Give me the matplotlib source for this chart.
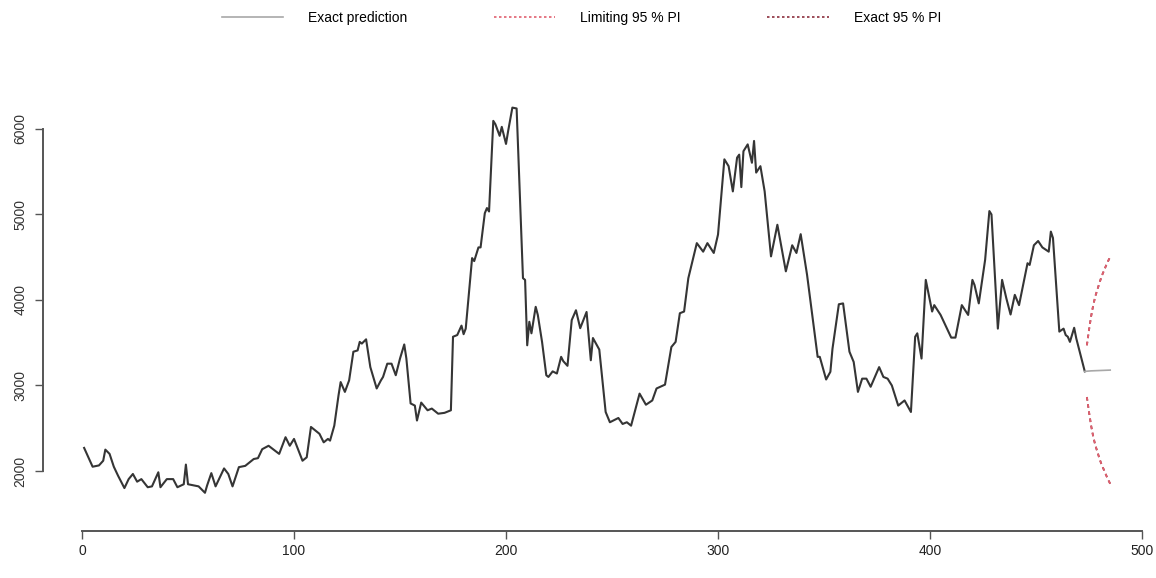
import numpy as np
import matplotlib.pyplot as plt
from matplotlib.lines import Line2D

# observed series (time index, value)
obs_t = [1, 5, 8, 10, 11, 13, 15, 17, 20, 22, 24, 26, 28, 31, 33, 36, 37, 40, 43, 45,
         48, 49, 50, 52, 55, 58, 59, 61, 63, 65, 67, 69, 71, 74, 77, 81, 83, 85, 88, 93,
         96, 98, 100, 104, 106, 108, 112, 114, 116, 117, 119, 121, 122, 124, 126, 128, 130, 131, 132, 134,
         136, 139, 141, 142, 144, 146, 148, 150, 152, 153, 155, 157, 158, 160, 163, 165, 168, 171, 174, 175,
         177, 179, 180, 181, 184, 185, 187, 188, 190, 191, 192, 194, 195, 197, 198, 200, 201, 203, 205, 208,
         209, 210, 211, 212, 214, 215, 217, 219, 220, 222, 224, 226, 227, 229, 231, 233, 235, 238, 240, 241,
         244, 247, 249, 253, 255, 257, 259, 263, 266, 269, 271, 275, 278, 280, 282, 284, 286, 290, 293, 295,
         298, 300, 303, 305, 307, 309, 310, 311, 312, 314, 316, 317, 318, 320, 322, 325, 328, 332, 335, 337,
         339, 342, 347, 348, 351, 353, 354, 357, 359, 362, 364, 366, 368, 370, 372, 376, 378, 380, 382, 385,
         388, 391, 393, 394, 396, 398, 401, 402, 405, 410, 412, 415, 418, 420, 421, 423, 425, 426, 428, 429,
         432, 434, 436, 438, 440, 442, 446, 447, 449, 451, 453, 456, 457, 458, 461, 463, 464, 465, 466, 468,
         469, 473]
obs_y = [2270, 2050, 2065, 2120, 2250, 2200, 2050, 1945, 1800, 1905, 1965, 1875, 1905, 1810, 1820, 1985, 1810, 1905, 1905, 1810,
         1845, 2075, 1845, 1835, 1820, 1745, 1830, 1975, 1820, 1925, 2030, 1965, 1820, 2045, 2060, 2140, 2150, 2255, 2295, 2200,
         2395, 2295, 2375, 2120, 2160, 2515, 2435, 2335, 2375, 2355, 2530, 2885, 3040, 2925, 3060, 3395, 3410, 3510, 3490, 3540,
         3215, 2965, 3060, 3100, 3255, 3255, 3120, 3315, 3480, 3315, 2790, 2765, 2590, 2800, 2710, 2730, 2670, 2680, 2710, 3570,
         3590, 3700, 3600, 3665, 4490, 4455, 4615, 4615, 5015, 5075, 5035, 6095, 6055, 5920, 6025, 5825, 5975, 6250, 6240, 4255,
         4235, 3470, 3745, 3610, 3920, 3825, 3510, 3120, 3100, 3165, 3140, 3335, 3285, 3230, 3765, 3880, 3670, 3860, 3295, 3555,
         3420, 2690, 2570, 2620, 2550, 2570, 2530, 2905, 2775, 2825, 2965, 3010, 3450, 3510, 3845, 3865, 4255, 4665, 4565, 4665,
         4550, 4765, 5645, 5565, 5270, 5665, 5700, 5320, 5740, 5820, 5605, 5860, 5490, 5565, 5270, 4510, 4880, 4335, 4640, 4550,
         4770, 4295, 3335, 3335, 3070, 3160, 3430, 3950, 3960, 3395, 3275, 2925, 3080, 3080, 2985, 3215, 3100, 3080, 3000, 2765,
         2825, 2690, 3570, 3610, 3315, 4235, 3865, 3940, 3825, 3560, 3560, 3940, 3825, 4235, 4175, 3960, 4295, 4470, 5040, 5000,
         3665, 4235, 4020, 3830, 4060, 3940, 4430, 4410, 4640, 4690, 4615, 4565, 4800, 4725, 3630, 3665, 3590, 3570, 3510, 3675,
         3550, 3165]

# point forecast beyond the last observation
fc_t = [473, 474, 475, 476, 477, 478, 479, 480, 481, 482, 483, 484, 485]
fc_y = [3165, 3167, 3169, 3171, 3172, 3173, 3174, 3175, 3176, 3177, 3178, 3179, 3180]

# 95 % prediction interval bounds
pi_t = [474, 475, 476, 477, 478, 479, 480, 481, 482, 483, 484, 485]
pi_upper = [3470, 3650, 3810, 3940, 4045, 4125, 4205, 4280, 4340, 4400, 4455, 4505]
pi_lower = [2865, 2690, 2530, 2400, 2300, 2220, 2140, 2070, 2015, 1955, 1900, 1850]

xticks = [0, 100, 200, 300, 400, 500]
yticks = [2000, 3000, 4000, 5000, 6000]

sans = ['Liberation Sans Narrow', 'Liberation Sans', 'DejaVu Sans']

fig = plt.figure(figsize=(11.56, 5.78), dpi=100)
ax = fig.add_axes([0.0372, 0.0813, 0.9628, 0.763])

ax.plot(obs_t, obs_y, color='#353535', lw=1.5)
ax.plot(fc_t, fc_y, color='#a8a8a8', lw=1.2)
ax.plot(pi_t, pi_upper, color='#8b2e3c', lw=1.3, ls=(0, (2, 2)))
ax.plot(pi_t, pi_lower, color='#8b2e3c', lw=1.3, ls=(0, (2, 2)))
ax.plot(pi_t, pi_upper, color='#e0606f', lw=1.3, ls=(0, (2, 2)))
ax.plot(pi_t, pi_lower, color='#e0606f', lw=1.3, ls=(0, (2, 2)))

ax.set_xlim(-18.4, 506.6)
ax.set_ylim(1298, 6456)

# R-style detached axes
for side in ['top', 'right']:
    ax.spines[side].set_visible(False)
ax.spines['bottom'].set_bounds(0, 500)
ax.spines['left'].set_bounds(2000, 6000)
for side in ['bottom', 'left']:
    ax.spines[side].set_color('#555555')
    ax.spines[side].set_linewidth(1.4)

ax.set_xticks(xticks)
ax.set_yticks(yticks)
ax.tick_params(axis='x', length=6, width=1.0, color='#555555', pad=3)
ax.tick_params(axis='y', length=6, width=1.0, color='#555555', pad=5)
ax.set_xticklabels([str(v) for v in xticks], family=sans, fontsize=10, color='#222222')
ax.set_yticklabels([str(v) for v in yticks], family=['Liberation Sans', 'DejaVu Sans'],
                   fontsize=10, rotation=90, va='center', color='#333333')

handles = [Line2D([], [], color='#a8a8a8', lw=1.2),
           Line2D([], [], color='#e0606f', lw=1.2, ls=(0, (1.5, 1.5))),
           Line2D([], [], color='#8b2e3c', lw=1.2, ls=(0, (1.5, 1.5)))]
labels = ['Exact prediction', 'Limiting 95 % PI', 'Exact 95 % PI']
fig.legend(handles, labels, loc='center', bbox_to_anchor=(0.503, 0.969), ncol=3,
           frameon=False, prop={'family': sans, 'size': 10},
           handlelength=4.45, handletextpad=1.8, columnspacing=6.2)

fig.savefig('out.png', dpi=100)
